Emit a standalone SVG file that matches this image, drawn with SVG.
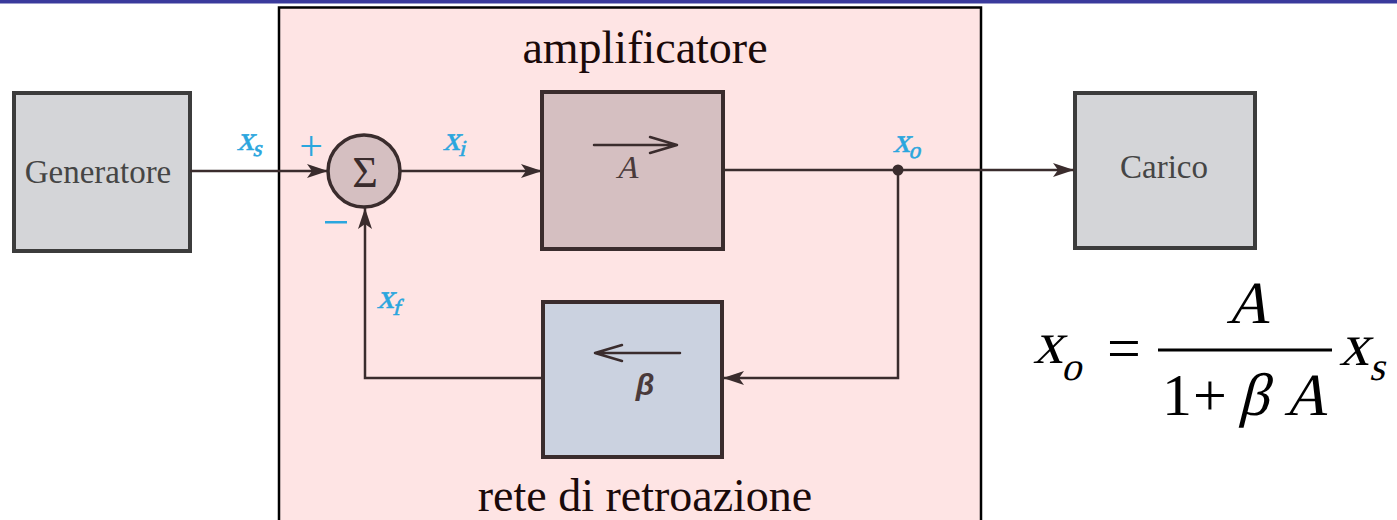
<svg xmlns="http://www.w3.org/2000/svg" width="1397" height="520" viewBox="0 0 1397 520">
<defs>
<style>
.box{stroke:#3a2c2d;stroke-width:4}
.gray{fill:#d4d5d8;stroke:#3c3c3c}
.lbl{font-family:"Liberation Serif","Times New Roman",serif;fill:#454545;font-size:33px}
.blue{font-family:"Liberation Serif","Times New Roman",serif;fill:#2aa6de;font-size:34px;stroke:#2aa6de;stroke-width:0.6}
.sub{font-size:23px}
.big{font-family:"Liberation Serif","Times New Roman",serif;fill:#1a0a0a;font-size:46px}
.eq{font-family:"Liberation Serif","Times New Roman",serif;fill:#000;font-size:60px}
.eqs{font-size:40px}
.wire{fill:none;stroke:#3a2c2d;stroke-width:2.5}
.inner{fill:none;stroke:#3a2c2d;stroke-width:2.5;stroke-linecap:round;stroke-linejoin:round}
</style>
<marker id="ah" markerUnits="userSpaceOnUse" markerWidth="22" markerHeight="16" refX="21" refY="8" orient="auto">
<path d="M0,1 L21,8 L0,15 L5,8 z" fill="#3a2c2d"/>
</marker>
</defs>
<rect x="0" y="0" width="1397" height="520" fill="#fff"/>
<rect x="0" y="0" width="1397" height="3.5" fill="#3a3a9c"/>
<g id="amplifier-region">
<rect x="279" y="7.5" width="702" height="520" fill="#fee4e4" stroke="#000" stroke-width="2.5"/>
<text class="big" x="645" y="63" text-anchor="middle">amplificatore</text>
<text class="big" x="645" y="511" text-anchor="middle">rete di retroazione</text>
</g>
<g id="generatore">
<rect class="box gray" x="14" y="93" width="176" height="158"/>
<text class="lbl" x="98" y="183" text-anchor="middle">Generatore</text>
</g>
<g id="carico">
<rect class="box gray" x="1075" y="93" width="180" height="155"/>
<text class="lbl" x="1164" y="178" text-anchor="middle">Carico</text>
</g>
<g id="sommatore">
<circle cx="364" cy="171" r="36" fill="#d5bfc1" stroke="#3a2c2d" stroke-width="3.5"/>
<text x="365" y="187" text-anchor="middle" font-family="Liberation Serif,Times New Roman,serif" font-size="44" fill="#3a2c2d">Σ</text>
<text x="311" y="160" text-anchor="middle" font-family="Liberation Serif,Times New Roman,serif" font-size="42" fill="#2aa6de">+</text>
<rect x="325" y="221" width="22" height="2.5" fill="#2aa6de"/>
</g>
<g id="amplificatore-A">
<rect class="box" x="542" y="92" width="181" height="157" fill="#d5bfc1"/>
<path class="inner" d="M594,145 L677,145 M650,137 L677,145 L650,153"/>
<text transform="translate(627,178) skewX(-14)" text-anchor="middle" font-family="Liberation Serif,Times New Roman,serif" font-size="32" fill="#4a3a3b">A</text>
</g>
<g id="retroazione-beta">
<rect class="box" x="543" y="302" width="179" height="155" fill="#cbd2e0"/>
<path class="inner" d="M680,353 L595,353 M622,345 L595,353 L622,361"/>
<text x="645" y="395" text-anchor="middle" font-family="Liberation Sans,Arial,sans-serif" font-style="italic" font-weight="bold" font-size="30" fill="#4a3a3b">β</text>
</g>
<g id="connectors">
<path class="wire" d="M190,171 L328,171" marker-end="url(#ah)"/>
<path class="wire" d="M400,171 L542,171" marker-end="url(#ah)"/>
<path class="wire" d="M723,170 L1074,170" marker-end="url(#ah)"/>
<path class="wire" d="M898,170 L898,378 L723,378" marker-end="url(#ah)"/>
<path class="wire" d="M543,378 L365,378 L365,208" marker-end="url(#ah)"/>
<circle cx="898" cy="170" r="5.5" fill="#3a2c2d"/>
</g>
<g id="labels">
<text class="blue" transform="translate(237,150) skewX(-14)">x<tspan class="sub" dy="6">s</tspan></text>
<text class="blue" transform="translate(443,150) skewX(-14)">x<tspan class="sub" dy="6">i</tspan></text>
<text class="blue" transform="translate(893,152) skewX(-14)">x<tspan class="sub" dy="6">o</tspan></text>
<text class="blue" transform="translate(377,308) skewX(-14)">x<tspan class="sub" dy="7">f</tspan></text>
</g>
<g id="formula">
<text class="eq" transform="translate(1033,363) skewX(-14)">x</text>
<text class="eq eqs" transform="translate(1061,380) skewX(-14)">o</text>
<text class="eq" x="1107" y="368">=</text>
<rect x="1158" y="348.5" width="174" height="3" fill="#000"/>
<text class="eq" transform="translate(1248,323) skewX(-14)" text-anchor="middle">A</text>
<text class="eq" x="1162" y="415">1</text>
<text class="eq" x="1193" y="415">+</text>
<text class="eq" transform="translate(1238,415) skewX(-14)">β</text>
<text class="eq" transform="translate(1284,415) skewX(-14)">A</text>
<text class="eq" transform="translate(1339,365) skewX(-14)">x</text>
<text class="eq eqs" transform="translate(1369,380) skewX(-14)">s</text>
</g>
</svg>
